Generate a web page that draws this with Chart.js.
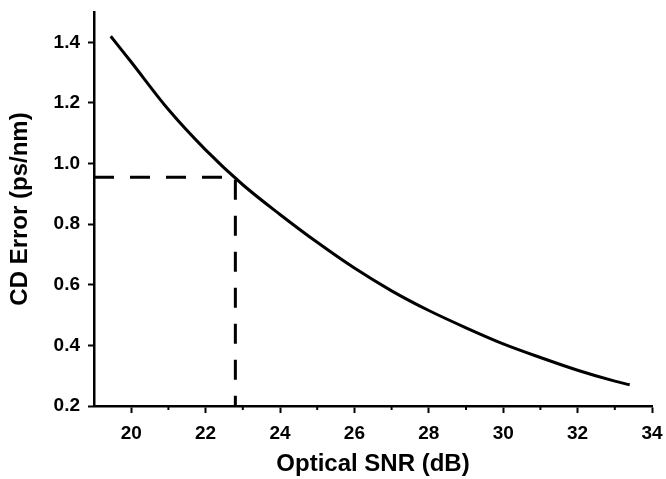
<!DOCTYPE html>
<html>
<head>
<meta charset="utf-8">
<script src="https://cdn.jsdelivr.net/npm/chart.js@4"></script>
<style>
  html, body { margin: 0; padding: 0; background: #fff; }
  #wrap { width: 666px; height: 479px; }
</style>
</head>
<body>
<div id="wrap"><canvas id="chart" width="666" height="479"></canvas></div>
<script>
// optical SNR (dB) vs CD error (ps/nm)
const snr = [19.45, 20, 21, 22, 23, 24, 25, 26, 27, 28, 29, 30, 31, 32, 33, 33.4];
const cdError = [1.42, 1.335, 1.178, 1.045, 0.93, 0.832, 0.74, 0.655, 0.58, 0.515, 0.458, 0.405, 0.36, 0.318, 0.282, 0.27];
// dashed guide at the operating point
const guideX = [19, 22.8, 22.8];
const guideY = [0.955, 0.955, 0.2];
const yTicks = [0.2, 0.4, 0.6, 0.8, 1.0, 1.2, 1.4];
const xTicks = [20, 22, 24, 26, 28, 30, 32, 34];
const xMinor = [21, 23, 25, 27, 29, 31, 33];

const tickFont = { family: "'Liberation Sans', Arial, sans-serif", size: 19, weight: "bold" };
const titleFont = { family: "'Liberation Sans', Arial, sans-serif", size: 24, weight: "bold" };

// short minor ticks under the x axis
const minorTicks = {
    id: "minorTicks",
    afterDraw(chart) {
        const ctx = chart.ctx;
        const x = chart.scales.x;
        ctx.save();
        ctx.strokeStyle = "#000";
        ctx.lineWidth = 2;
        xMinor.forEach((v) => {
            const px = x.getPixelForValue(v);
            ctx.beginPath();
            ctx.moveTo(px, x.top);
            ctx.lineTo(px, x.top + 4);
            ctx.stroke();
        });
        ctx.restore();
    },
};

new Chart(document.getElementById("chart").getContext("2d"), {
    type: "line",
    data: {
        datasets: [
            {
                data: snr.map((v, i) => ({ x: v, y: cdError[i] })),
                borderColor: "#000",
                borderWidth: 3,
                pointRadius: 0,
                cubicInterpolationMode: "monotone",
                clip: false,
            },
            {
                data: guideX.map((v, i) => ({ x: v, y: guideY[i] })),
                borderColor: "#000",
                borderWidth: 3,
                borderDash: [20, 16],
                pointRadius: 0,
                tension: 0,
            },
        ],
    },
    options: {
        responsive: false,
        animation: false,
        layout: { padding: { top: 12, right: 14, left: 0, bottom: 0 } },
        plugins: {
            legend: { display: false },
            tooltip: { enabled: false },
        },
        scales: {
            x: {
                type: "linear",
                min: 19,
                max: 34,
                afterBuildTicks: (scale) => {
                    scale.ticks = xTicks.map((v) => ({ value: v }));
                },
                afterFit: (scale) => {
                    scale.height = 73;
                    scale.paddingLeft = 0;
                    scale.paddingRight = 0;
                },
                ticks: { color: "#000", font: tickFont, padding: 9, maxRotation: 0 },
                grid: { drawOnChartArea: false, tickLength: 7, tickColor: "#000", tickWidth: 2 },
                border: { display: true, color: "#000", width: 2.5 },
                title: { display: true, text: "Optical SNR (dB)", color: "#000", font: titleFont, padding: { top: 0, bottom: 0 } },
            },
            y: {
                type: "linear",
                min: 0.2,
                max: 1.5,
                afterBuildTicks: (scale) => {
                    scale.ticks = yTicks.map((v) => ({ value: v }));
                },
                afterFit: (scale) => {
                    scale.width = 94;
                    scale.paddingTop = 0;
                    scale.paddingBottom = 0;
                },
                ticks: { color: "#000", font: tickFont, padding: 8, callback: (v) => v.toFixed(1) },
                grid: { drawOnChartArea: false, tickLength: 6, tickColor: "#000", tickWidth: 2 },
                border: { display: true, color: "#000", width: 2.5 },
                title: { display: true, text: "CD Error (ps/nm)", color: "#000", font: titleFont, padding: { top: 6, bottom: 0 } },
            },
        },
    },
    plugins: [minorTicks],
});
</script>
</body>
</html>
